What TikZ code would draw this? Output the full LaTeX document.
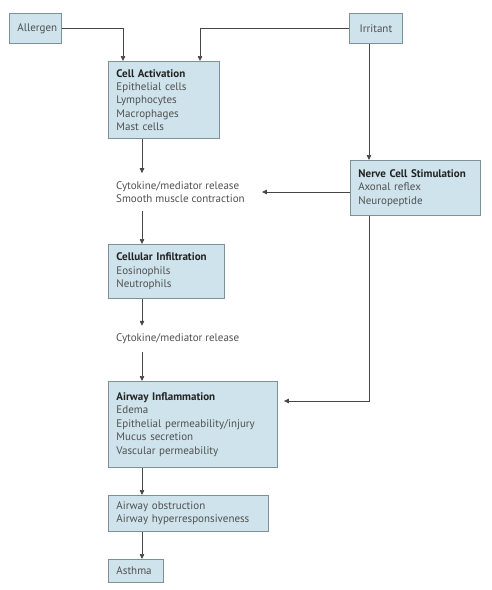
\documentclass[tikz,border=0pt]{standalone}
\usepackage{fontspec}
\setmainfont{PT Sans}
\usetikzlibrary{arrows.meta}
\definecolor{boxfill}{RGB}{206,227,235}
\definecolor{boxline}{RGB}{125,145,155}
\definecolor{txt}{RGB}{80,80,80}
\definecolor{ttl}{RGB}{35,35,35}
\definecolor{arrcol}{RGB}{70,70,70}
\begin{document}
\begin{tikzpicture}[x=1pt,y=-1pt,
 box/.style={draw=boxline, fill=boxfill, line width=0.9pt, anchor=north west, inner xsep=8pt, inner ysep=0pt, align=left, font=\fontsize{11}{13.4}\selectfont, text=txt},
 lbl/.style={inner xsep=0pt, inner ysep=8pt, align=left, font=\fontsize{11}{13.4}\selectfont, text=txt},
 arr/.style={draw=arrcol, line width=0.7pt, -{Triangle[length=5pt,width=4.5pt]}}]
\useasboundingbox (0,0) rectangle (491,590);
\node[box, align=center, text width=36pt, minimum height=30pt] (allergen) at (9,13) {Allergen};
\node[box, align=center, text width=37pt, minimum height=30pt] (irritant) at (349,13) {Irritant};
\node[box, text width=95pt, minimum height=77pt] (ca) at (108,61) {\textcolor{ttl}{\textbf{Cell Activation}}\\Epithelial cells\\Lymphocytes\\Macrophages\\Mast cells};
\node[box, text width=114pt, minimum height=55pt] (nerve) at (350,160) {\textcolor{ttl}{\textbf{Nerve Cell Stimulation}}\\Axonal reflex\\Neuropeptide};
\node[lbl, anchor=west] (cyto1) at (116,192) {Cytokine/mediator release\\Smooth muscle contraction};
\node[box, text width=100pt, minimum height=54pt] (ci) at (108,244) {\textcolor{ttl}{\textbf{Cellular Infiltration}}\\Eosinophils\\Neutrophils};
\node[lbl, anchor=west] (cyto2) at (116,339) {Cytokine/mediator release};
\node[box, text width=153pt, minimum height=86pt] (ai) at (108,381) {\textcolor{ttl}{\textbf{Airway Inflammation}}\\Edema\\Epithelial permeability/injury\\Mucus secretion\\Vascular permeability};
\node[box, text width=144pt, minimum height=36pt] (ao) at (108,495) {Airway obstruction\\Airway hyperresponsiveness};
\node[box, text width=39pt, minimum height=23pt] (asthma) at (108,559) {Asthma};
\coordinate (spine) at (142,0);
\draw[arr] (ca.south -| spine) -- (cyto1.north -| spine);
\draw[arr] (cyto1.south -| spine) -- (ci.north -| spine);
\draw[arr] (ci.south -| spine) -- (cyto2.north -| spine);
\draw[arr] (cyto2.south -| spine) -- (ai.north -| spine);
\draw[arr] (ai.south -| spine) -- (ao.north -| spine);
\draw[arr] (ao.south -| spine) -- (asthma.north -| spine);
\draw[arr] (allergen.east) -| ([xshift=15pt]ca.north west);
\draw[arr] (irritant.west) -| ([xshift=92pt]ca.north west);
\coordinate (irr) at ([xshift=20pt]irritant.south west);
\draw[arr] (irr) -- (irr |- nerve.north);
\draw[arr] (nerve.west |- cyto1.east) -- ([xshift=17pt]cyto1.east);
\coordinate (nv) at ([xshift=19pt]nerve.south west);
\draw[arr] (nv) |- ([xshift=6pt,yshift=-20pt]ai.north east);
\end{tikzpicture}
\end{document}
